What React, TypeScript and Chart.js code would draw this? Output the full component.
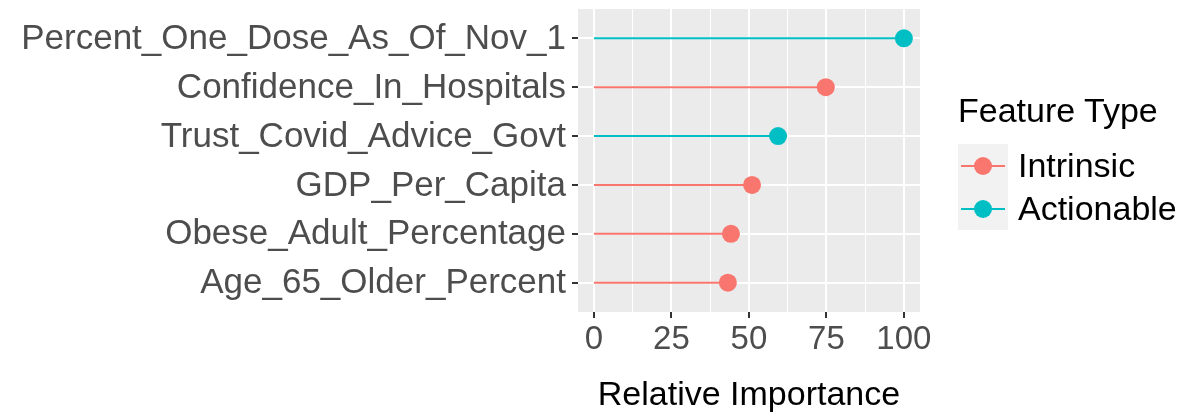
import { useEffect, useRef } from "react";
import Chart from "chart.js/auto";

const features = [
  "Percent_One_Dose_As_Of_Nov_1",
  "Confidence_In_Hospitals",
  "Trust_Covid_Advice_Govt",
  "GDP_Per_Capita",
  "Obese_Adult_Percentage",
  "Age_65_Older_Percent",
];
const importance = [100, 74.8, 59.4, 51.0, 44.2, 43.2];
const featureType = ["Actionable", "Intrinsic", "Actionable", "Intrinsic", "Intrinsic", "Intrinsic"];
const typeNames = ["Intrinsic", "Actionable"];
const typeColors: Record<string, string> = { Intrinsic: "#F8766D", Actionable: "#00BFC4" };
const xTicks = [0, 12.5, 25, 37.5, 50, 62.5, 75, 87.5, 100];

const FONT = "'Liberation Sans', Arial, sans-serif";
const SIZE = 35;

export default function App() {
  const canvasRef = useRef<HTMLCanvasElement | null>(null);

  useEffect(() => {
    if (!canvasRef.current) return;
    const panelBg = {
      id: "panelBg",
      beforeDraw(chart: any) {
        const { ctx, chartArea: a } = chart;
        ctx.save();
        ctx.fillStyle = "#EBEBEB";
        ctx.fillRect(a.left, a.top, a.right - a.left, a.bottom - a.top);
        ctx.restore();
      },
      afterDraw(chart: any) {
        const { ctx, chartArea: a } = chart;
        const y = chart.scales.y;
        ctx.save();
        ctx.fillStyle = "#4D4D4D";
        ctx.font = `${SIZE}px ${FONT}`;
        ctx.textAlign = "right";
        ctx.textBaseline = "middle";
        features.forEach((f, i) => {
          ctx.fillText(f, a.left - 12, y.getPixelForValue(i) + 1);
        });
        ctx.restore();
      },
    };
    const segments = features.map((f, i) => ({
      label: f,
      data: [
        { x: 0, y: i },
        { x: importance[i], y: i },
      ],
      showLine: true,
      borderColor: typeColors[featureType[i]],
      borderWidth: 2,
      pointRadius: 0,
      order: 2,
    }));
    const points = typeNames.map((t) => ({
      label: t,
      data: features
        .map((_, i) => ({ x: importance[i], y: i, t: featureType[i] }))
        .filter((p) => p.t === t),
      pointRadius: 9,
      pointBackgroundColor: typeColors[t],
      pointBorderWidth: 0,
      order: 1,
    }));
    const chart = new Chart(canvasRef.current, {
      type: "scatter",
      data: { datasets: [...segments, ...points] as any },
      plugins: [panelBg],
      options: {
        animation: false,
        responsive: false,
        layout: { padding: { top: 8, right: 280, left: 0, bottom: 4 } },
        plugins: { legend: { display: false }, tooltip: { enabled: false } },
        scales: {
          x: {
            type: "linear",
            min: -5.16,
            max: 105.2,
            afterBuildTicks: (s: any) => {
              s.ticks = xTicks.map((v) => ({ value: v }));
            },
            afterFit: (s: any) => {
              s.height = 104;
            },
            border: { display: false },
            grid: {
              color: "#FFFFFF",
              lineWidth: (c: any) => (c.tick && c.tick.value % 25 === 0 ? 2 : 1),
              tickColor: (c: any) => (c.tick && c.tick.value % 25 === 0 ? "#333333" : "rgba(0,0,0,0)"),
              tickLength: 6,
            },
            ticks: {
              autoSkip: false,
              maxRotation: 0,
              padding: 2,
              color: "#4D4D4D",
              font: { family: FONT, size: SIZE - 2 },
              callback: (v: any) => (Number(v) % 25 === 0 ? String(v) : ""),
            },
            title: {
              display: true,
              text: "Relative Importance",
              color: "#000000",
              font: { family: FONT, size: SIZE - 1 },
              padding: { top: 0, bottom: 0 },
            },
          },
          y: {
            type: "linear",
            min: -0.6,
            max: 5.6,
            reverse: true,
            afterBuildTicks: (s: any) => {
              s.ticks = features.map((_, i) => ({ value: i }));
            },
            afterFit: (s: any) => {
              s.width = 578;
            },
            border: { display: false },
            grid: { color: "#FFFFFF", lineWidth: 2, tickColor: "#333333", tickLength: 6 },
            ticks: { display: false },
          },
        },
      },
    });
    return () => chart.destroy();
  }, []);

  return (
    <div style={{ position: "fixed", left: 0, top: 0, width: 1200, height: 420, background: "#fff", fontFamily: FONT }}>
      <canvas ref={canvasRef} width={1200} height={420} style={{ width: 1200, height: 420 }} />
      <div style={{ position: "absolute", left: 958, top: 91, fontSize: SIZE - 1, color: "#000" }}>Feature Type</div>
      {typeNames.map((t, i) => (
        <div key={t} style={{ position: "absolute", left: 958, top: 144 + i * 43, height: 43, display: "flex", alignItems: "center" }}>
          <div style={{ width: 50, height: 43, background: "#F2F2F2", position: "relative" }}>
            <div style={{ position: "absolute", left: 3, right: 3, top: 20.5, height: 2, background: typeColors[t] }} />
            <div style={{ position: "absolute", left: 16, top: 12.5, width: 18, height: 18, borderRadius: 9, background: typeColors[t] }} />
          </div>
          <span style={{ marginLeft: 10, fontSize: SIZE - 1, color: "#000" }}>{t}</span>
        </div>
      ))}
    </div>
  );
}
